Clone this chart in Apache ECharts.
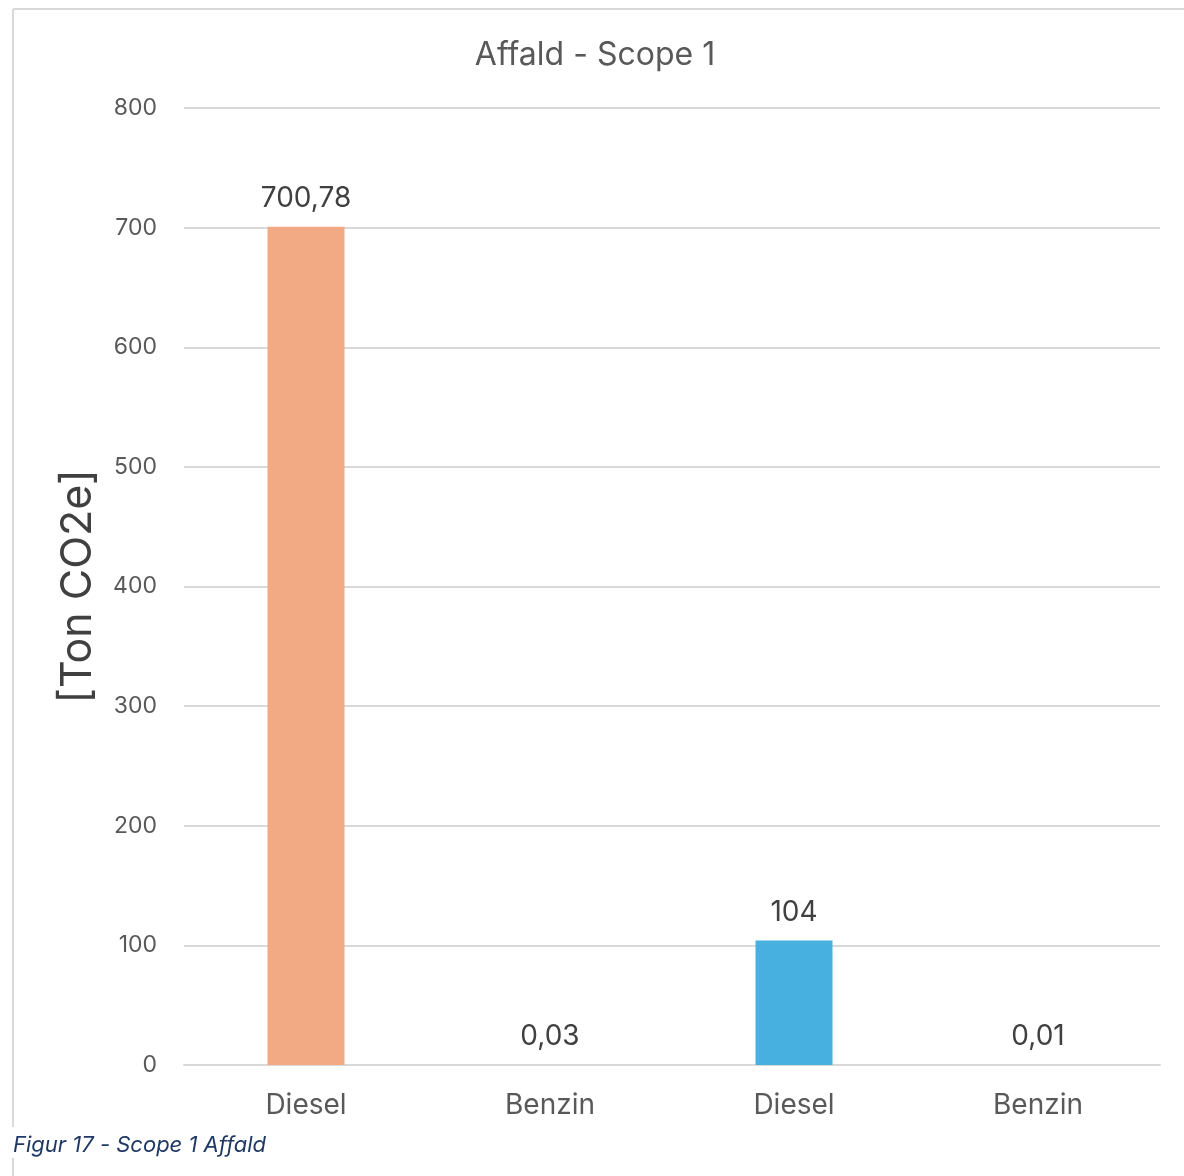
<!DOCTYPE html>
<html>
<head>
<meta charset="utf-8">
<script src="https://cdn.jsdelivr.net/npm/echarts@6/dist/echarts.min.js"></script>
<style>
  html, body { margin: 0; padding: 0; background: #fff; }
  #chart { width: 1184px; height: 1176px; }
</style>
</head>
<body>
<div id="chart"></div>
<script>
const categories = ['Diesel', 'Benzin', 'Diesel ', 'Benzin '];
const values = [700.78, 0.03, 104, 0.01];
const valueLabels = ['700,78', '0,03', '104', '0,01'];
const barColors = ['#F2AA84', '#F2AA84', '#47B0E0', '#47B0E0'];
const yTicks = { min: 0, max: 800, interval: 100 };

const FONT = 'Inter, "Noto Sans", sans-serif';
const chart = echarts.init(document.getElementById('chart'));
chart.setOption({
  backgroundColor: '#ffffff',
  animation: false,
  title: {
    text: 'Affald - Scope 1',
    left: 590, top: 34, textAlign: 'center',
    textStyle: { fontFamily: FONT, fontSize: 32, fontWeight: 'normal', color: '#595959' }
  },
  grid: { left: 184, right: 24, top: 108, bottom: 111 },
  xAxis: {
    type: 'category',
    data: categories,
    axisLine: { show: true, lineStyle: { color: '#d9d9d9', width: 2 } },
    axisTick: { show: false },
    axisLabel: {
      fontFamily: FONT, fontSize: 28, color: '#595959', margin: 27,
      formatter: v => v.trim()
    }
  },
  yAxis: {
    type: 'value',
    min: yTicks.min, max: yTicks.max, interval: yTicks.interval,
    name: '[Ton CO2e]',
    nameLocation: 'middle',
    nameGap: 84,
    nameRotate: 90,
    nameTextStyle: { fontFamily: FONT, fontSize: 43, color: '#404040' },
    axisLine: { show: false },
    axisTick: { show: false },
    splitLine: { lineStyle: { color: '#d9d9d9', width: 2 } },
    axisLabel: { fontFamily: FONT, fontSize: 23, color: '#595959', margin: 27 }
  },
  series: [{
    type: 'bar',
    barWidth: 77,
    data: values.map((v, i) => ({ value: v, itemStyle: { color: barColors[i] } })),
    label: {
      show: true, position: 'top', distance: 14,
      fontFamily: FONT, fontSize: 28, color: '#404040',
      formatter: p => valueLabels[p.dataIndex]
    }
  }],
  graphic: [
    { type: 'line', shape: { x1: 13, y1: 9, x2: 1184, y2: 9 }, style: { stroke: '#d9d9d9', lineWidth: 2 } },
    { type: 'line', shape: { x1: 13, y1: 9, x2: 13, y2: 1127 }, style: { stroke: '#d9d9d9', lineWidth: 2 } },
    { type: 'line', shape: { x1: 13, y1: 1158, x2: 13, y2: 1176 }, style: { stroke: '#d9d9d9', lineWidth: 2 } },
    { type: 'text', left: 13, top: 1134,
      style: { text: 'Figur 17 - Scope 1 Affald', font: 'italic 22px ' + FONT, fill: '#1F3864' } }
  ]
});
</script>
</body>
</html>
